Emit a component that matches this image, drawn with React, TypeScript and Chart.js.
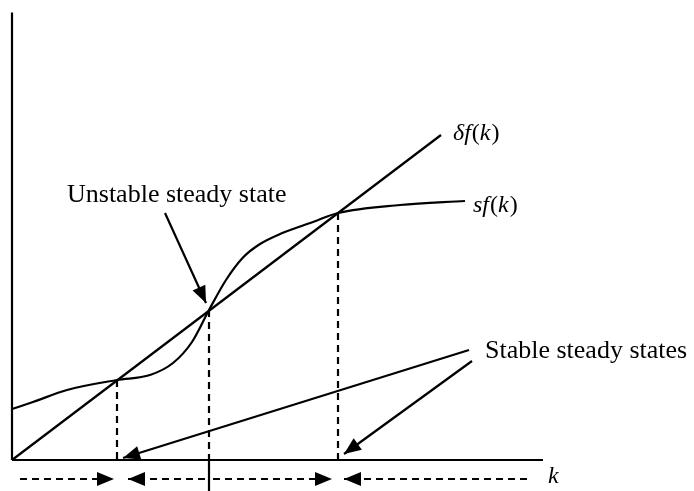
import React, { useEffect, useRef } from "react";
import { Chart, registerables } from "chart.js";

Chart.register(...registerables);

// Extents of the two drawn axes (capital k on x, output per worker on y)
const kAxisEnd = 10.62;
const yAxisEnd = 8.95;

// Depreciation line δf(k): a straight ray from the origin
const deprK = [0, 8.58];
const deprY = [0, 6.5];

// Saving curve sf(k): S-shaped, crossing the ray three times
const saveK = [0, 0.42, 1.1, 2.1, 2.76, 3.22, 3.6, 3.94, 4.28, 4.62, 4.96, 5.36, 6.02, 6.52, 7.76, 9.06];
const saveY = [1.02, 1.16, 1.4, 1.6, 1.7, 1.94, 2.36, 3.0, 3.6, 4.05, 4.32, 4.52, 4.76, 4.94, 5.1, 5.18];

// Steady states k* where sf(k*) = δf(k*)
const steadyK = [2.1, 3.94, 6.52];
const steadyY = [1.6, 3.0, 4.94];

// Direction of motion of k below the axis: [from, to]
const flowLevel = -0.38;
const flowArrows = [
  [0.16, 2.04],
  [3.86, 2.32],
  [4.02, 6.4],
  [10.3, 6.64],
];

// Pointer arrows: [fromK, fromY, toK, toY]
const unstablePointer = [3.06, 4.94, 3.88, 3.14];
const stablePointers = [
  [9.14, 2.2, 2.22, 0.04],
  [9.2, 1.98, 6.64, 0.12],
];

// Text captions
const captionTexts = ["Unstable steady state", "Stable steady states"];
const captionK = [1.1, 9.46];
const captionY = [5.16, 2.04];

// Curve labels, italic runs marked with true
const curveLabels = [
  { runs: [["δf", true], ["(", false], ["k", true], [")", false]], k: 8.82, y: 6.4 },
  { runs: [["sf", true], ["(", false], ["k", true], [")", false]], k: 9.22, y: 4.96 },
  { runs: [["k", true]], k: 10.72, y: -0.46 },
];

const INK = "#000000";
const SERIF = '"Liberation Serif", "Times New Roman", serif';

const seg = (x0: number, y0: number, x1: number, y1: number) => [
  { x: x0, y: y0 },
  { x: x1, y: y1 },
];

const arrowHeadPlugin = {
  id: "arrowHeads",
  afterDatasetsDraw(chart: any) {
    const ctx = chart.ctx;
    chart.data.datasets.forEach((ds: any, i: number) => {
      if (!ds.arrowHead) return;
      const pts = chart.getDatasetMeta(i).data;
      const a = pts[pts.length - 2];
      const b = pts[pts.length - 1];
      const ang = Math.atan2(b.y - a.y, b.x - a.x);
      const len = 17;
      const half = 7;
      const bx = b.x - len * Math.cos(ang);
      const by = b.y - len * Math.sin(ang);
      ctx.save();
      ctx.fillStyle = INK;
      ctx.beginPath();
      ctx.moveTo(b.x, b.y);
      ctx.lineTo(bx + half * Math.sin(ang), by - half * Math.cos(ang));
      ctx.lineTo(bx - half * Math.sin(ang), by + half * Math.cos(ang));
      ctx.closePath();
      ctx.fill();
      ctx.restore();
    });
  },
};

const textPlugin = {
  id: "captions",
  afterDraw(chart: any) {
    const ctx = chart.ctx;
    const xs = chart.scales.x;
    const ys = chart.scales.y;
    ctx.save();
    ctx.fillStyle = INK;
    ctx.textBaseline = "alphabetic";
    ctx.textAlign = "left";
    ctx.font = `26px ${SERIF}`;
    captionTexts.forEach((t, i) => {
      ctx.fillText(t, xs.getPixelForValue(captionK[i]), ys.getPixelForValue(captionY[i]));
    });
    curveLabels.forEach((lab) => {
      let x = xs.getPixelForValue(lab.k);
      const y = ys.getPixelForValue(lab.y);
      lab.runs.forEach(([txt, it]) => {
        ctx.font = `${it ? "italic " : ""}24px ${SERIF}`;
        ctx.fillText(txt as string, x, y);
        x += ctx.measureText(txt as string).width + (it ? 1 : 0);
      });
    });
    ctx.restore();
  },
};

export default function App() {
  const ref = useRef<HTMLCanvasElement | null>(null);

  useEffect(() => {
    if (!ref.current) return;
    const solid = (data: any[], extra: any = {}) => ({
      data,
      showLine: true,
      borderColor: INK,
      backgroundColor: INK,
      borderWidth: 2.2,
      pointRadius: 0,
      borderCapStyle: "butt",
      ...extra,
    });
    const dashed = (data: any[], extra: any = {}) => solid(data, { borderDash: [7, 5], ...extra });

    const datasets: any[] = [
      solid(seg(0, 0, 0, yAxisEnd)),
      solid(seg(0, 0, kAxisEnd, 0)),
      solid(seg(deprK[0], deprY[0], deprK[1], deprY[1])),
      solid(
        saveK.map((k, i) => ({ x: k, y: saveY[i] })),
        { cubicInterpolationMode: "monotone" }
      ),
      ...steadyK.map((k, i) => dashed(seg(k, steadyY[i], k, 0))),
      solid(seg(steadyK[1], 0, steadyK[1], -0.62)),
      ...flowArrows.map(([a, b]) => dashed(seg(a, flowLevel, b, flowLevel), { arrowHead: true })),
      solid(seg(unstablePointer[0], unstablePointer[1], unstablePointer[2], unstablePointer[3]), { arrowHead: true }),
      ...stablePointers.map((p) => solid(seg(p[0], p[1], p[2], p[3]), { arrowHead: true })),
    ];

    const chart = new Chart(ref.current, {
      type: "scatter",
      data: { datasets },
      options: {
        animation: false,
        responsive: false,
        devicePixelRatio: 1,
        layout: { padding: 0 },
        plugins: { legend: { display: false }, tooltip: { enabled: false } },
        elements: { line: { tension: 0 } },
        scales: {
          x: { type: "linear", min: -0.24, max: 13.64, display: false },
          y: { type: "linear", min: -0.62, max: 9.2, display: false },
        },
        datasets: { scatter: { clip: false } as any },
      } as any,
      plugins: [arrowHeadPlugin, textPlugin],
    });
    return () => chart.destroy();
  }, []);

  return (
    <div style={{ position: "fixed", left: 0, top: 0, width: 694, height: 491, background: "#fff" }}>
      <canvas ref={ref} width={694} height={491} style={{ display: "block" }} />
    </div>
  );
}
